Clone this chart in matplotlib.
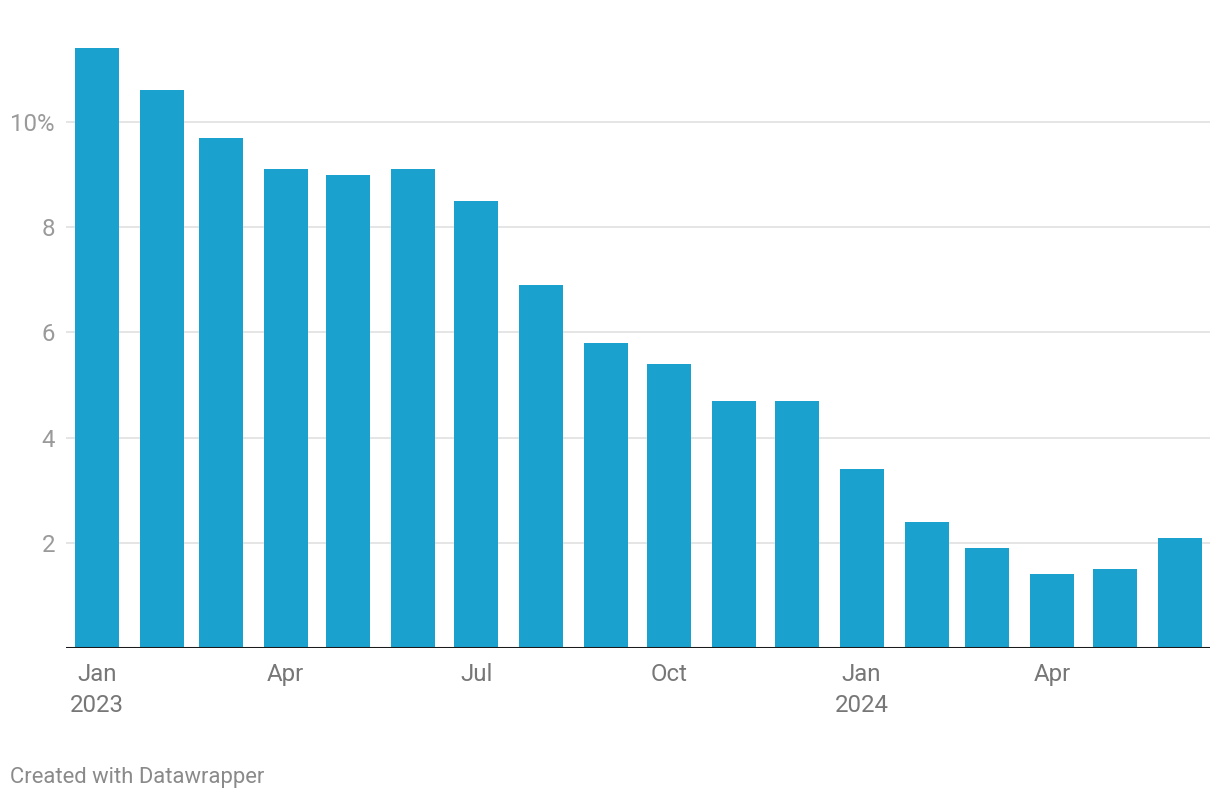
import matplotlib
matplotlib.use("Agg")
import matplotlib.pyplot as plt
import matplotlib.dates as mdates
import datetime as dt

months = ["2023-01", "2023-02", "2023-03", "2023-04", "2023-05", "2023-06",
          "2023-07", "2023-08", "2023-09", "2023-10", "2023-11", "2023-12",
          "2024-01", "2024-02", "2024-03", "2024-04", "2024-05", "2024-06"]
values = [11.4, 10.6, 9.7, 9.1, 9.0, 9.1, 8.5, 6.9, 5.8, 5.4, 4.7, 4.7,
          3.4, 2.4, 1.9, 1.4, 1.5, 2.1]
y_ticks = [2, 4, 6, 8, 10]
y_tick_labels = ["2", "4", "6", "8", "10%"]
x_tick_months = ["2023-01", "2023-04", "2023-07", "2023-10", "2024-01", "2024-04"]
x_tick_labels = ["Jan\n2023", "Apr", "Jul", "Oct", "Jan\n2024", "Apr"]

plt.rcParams['font.family'] = ['Roboto', 'DejaVu Sans']

def to_date(s):
    y, m = s.split("-")
    return dt.date(int(y), int(m), 1)

dates = [mdates.date2num(to_date(m)) for m in months]
tick_pos = [mdates.date2num(to_date(m)) for m in x_tick_months]

W, H = 1220, 800
fig = plt.figure(figsize=(W / 100, H / 100), dpi=100)
left, right = 66, 1210
base_y = 648
px_per_unit = 52.6
ymax = 12.0
top_y = base_y - ymax * px_per_unit
ax = fig.add_axes([left / W, (H - base_y) / H, (right - left) / W, (base_y - top_y) / H])

bar_color = "#1aa1ce"
ax.bar(dates, values, width=21, color=bar_color, zorder=2, align="center")

px_per_day = 1083 / 517
ax.set_xlim(dates[0] - (97 - left) / px_per_day, dates[-1] + (right - 1180) / px_per_day)
ax.set_ylim(0, ymax)

for yt in y_ticks:
    ax.axhline(yt, color="#e3e3e3", lw=1.3, zorder=1)
ax.axhline(0, color="#1a1a1a", lw=2.2, zorder=3)

ax.set_yticks(y_ticks)
ax.set_yticklabels(y_tick_labels)
ax.set_xticks(tick_pos)
ax.set_xticklabels(x_tick_labels, linespacing=1.42)
ax.tick_params(axis="y", length=0, pad=8, labelsize=17.3, labelcolor="#9a9a9a")
ax.tick_params(axis="x", length=0, pad=11, labelsize=17.3, labelcolor="#777777")
for lbl in ax.get_xticklabels():
    lbl.set_verticalalignment("top")
for s in ax.spines.values():
    s.set_visible(False)

fig.text(10 / W, 1 - 777 / H, "Created with Datawrapper", fontsize=15.8,
         color="#8a8a8a", va="center", ha="left")

fig.savefig("out.png", dpi=100)
